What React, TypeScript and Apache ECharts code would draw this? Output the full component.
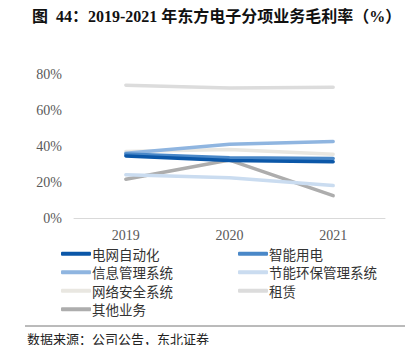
import React, { useEffect, useRef } from "react";
import * as echarts from "echarts";

const years = ["2019", "2020", "2021"];
const seriesNames = ["电网自动化", "智能用电", "信息管理系统", "节能环保管理系统", "网络安全系统", "租赁", "其他业务"];
const gridAuto = [34.5, 32.0, 31.3];
const smartPower = [35.5, 33.5, 33.0];
const infoMgmt = [36.0, 41.0, 42.5];
const energySaving = [24.0, 22.4, 18.0];
const netSecurity = [37.0, 38.0, 35.4];
const leasing = [73.8, 72.2, 72.6];
const others = [21.5, 32.2, 12.4];
const seriesValues = [gridAuto, smartPower, infoMgmt, energySaving, netSecurity, leasing, others];
const seriesColors = ["#0b57a8", "#4a88c8", "#8fb5e0", "#cadcf0", "#e9e7e1", "#dcdcdc", "#adadad"];
const yTicks = [0, 20, 40, 60, 80];

const serif = "'Liberation Serif', 'Noto Sans CJK SC', serif";
const cjk = "'Noto Sans CJK SC', sans-serif";

export default function App() {
  const ref = useRef<HTMLDivElement>(null);
  useEffect(() => {
    if (!ref.current) return;
    const chart = echarts.init(ref.current, undefined, { renderer: "svg" });
    const legendText = { fontFamily: cjk, fontSize: 13.5, color: "#333", padding: [0, 0, 0, -4], lineHeight: 13 };
    chart.setOption({
      animation: false,
      backgroundColor: "#ffffff",
      title: {
        text: "图  44：2019-2021 年东方电子分项业务毛利率（%）",
        left: 27,
        top: 3,
        textStyle: { fontFamily: serif, fontWeight: "bold", fontSize: 16, color: "#111" },
      },
      grid: { left: 74, right: 32, top: 74, bottom: 135, containLabel: false },
      xAxis: {
        type: "category",
        data: years,
        boundaryGap: true,
        axisLine: { lineStyle: { color: "#d9d9d9", width: 1 } },
        axisTick: { show: false },
        axisLabel: { fontFamily: serif, fontSize: 14, color: "#595959", margin: 10 },
      },
      yAxis: {
        type: "value",
        min: 0,
        max: 80,
        interval: 20,
        splitLine: { show: false },
        axisLine: { show: false },
        axisTick: { show: false },
        axisLabel: {
          fontFamily: serif,
          fontSize: 14,
          color: "#595959",
          margin: 12,
          formatter: (v: number) => (yTicks.includes(v) ? v + "%" : ""),
        },
      },
      legend: [
        {
          orient: "vertical",
          left: 56,
          top: 242,
          itemWidth: 30,
          itemHeight: 4,
          itemGap: 5,
          icon: "roundRect",
          textStyle: legendText,
          data: [seriesNames[0], seriesNames[2], seriesNames[4], seriesNames[6]],
        },
        {
          orient: "vertical",
          left: 233,
          top: 242,
          itemWidth: 30,
          itemHeight: 4,
          itemGap: 5,
          icon: "roundRect",
          textStyle: legendText,
          data: [seriesNames[1], seriesNames[3], seriesNames[5]],
        },
      ],
      graphic: [
        { type: "line", shape: { x1: 25, y1: 326, x2: 405, y2: 326 }, style: { stroke: "#777", lineWidth: 1 } },
        {
          type: "text",
          left: 27,
          top: 332,
          style: { text: "数据来源：公司公告，东北证券", font: "13px 'Noto Sans CJK SC', sans-serif", fill: "#222" },
        },
      ],
      series: seriesNames.map((name, i) => ({
        name,
        type: "line",
        data: seriesValues[i],
        symbol: "none",
        lineStyle: { width: 3.5, color: seriesColors[i], cap: "round" },
        itemStyle: { color: seriesColors[i] },
        z: 10 - i,
      })),
    });
    return () => chart.dispose();
  }, []);
  return <div ref={ref} style={{ width: 417, height: 353, margin: -8 }} />;
}
